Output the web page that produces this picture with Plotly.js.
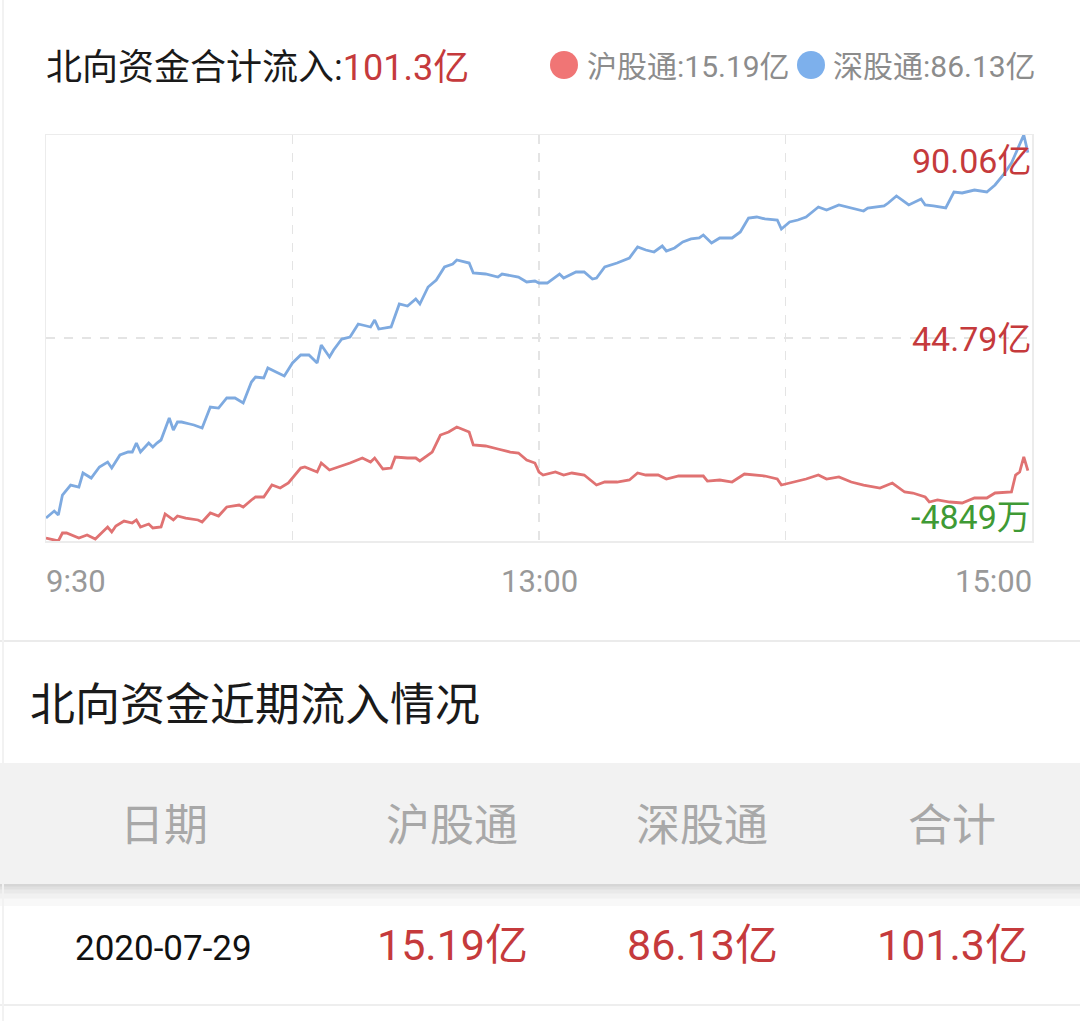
<!DOCTYPE html>
<html>
<head>
<meta charset="utf-8">
<script src="https://cdn.plot.ly/plotly-3.0.1.min.js"></script>
<style>
html,body{margin:0;padding:0;background:#fff;}
#chart{width:1080px;height:1021px;}
</style>
</head>
<body>
<div id="chart"></div>
<script>
// ---- data (values in 亿, time in minutes since 9:30 of trading time) ----
const blueT = [0,2,3,4,6,8,9,11,13,15,16,18,20,21,22,23,25,26,27,28,30,31,32,33,35,36,38,40,42,44,46,48,50,51,53,54,56,58,60,62,64,66,67,69,70,72,74,76,79,80,81,84,86,88,90,91,93,95,97,99,100,103,104,107,110,111,115,117,119,120,122,125,126,129,131,133,134,136,139,142,144,146,148,150,151,153,155,157,159,160,162,164,167,169,171,173,175,178,179,181,183,185,188,190,193,196,199,200,204,205,207,209,210,213,214,216,219,221,223,226,229,231,233,235,237,238,239];
const blueV = [4.64,6.20,5.31,9.77,12.00,11.55,14.68,13.56,16.02,17.13,
15.79,18.69,19.36,19.36,21.37,19.36,21.37,20.48,21.37,22.04,
26.95,24.27,26.05,26.05,25.61,25.39,24.72,29.40,29.17,31.41,
31.41,30.29,34.97,36.09,35.87,38.10,37.21,36.31,39.21,41.00,
41.00,39.21,43.23,40.55,42.11,44.56,45.01,47.91,47.24,48.80,
46.79,47.24,52.37,51.92,53.49,52.37,56.16,57.72,60.62,61.29,
62.18,61.51,59.28,59.06,58.39,59.06,58.39,57.28,57.50,57.05,
57.05,59.06,58.17,59.51,59.51,57.94,58.17,60.62,61.51,62.63,
65.08,64.41,63.97,65.30,64.19,64.86,66.20,66.87,67.09,67.76,
65.97,67.09,67.09,68.43,71.55,71.77,71.33,71.10,69.10,70.66,
71.10,71.77,74.00,73.33,74.45,73.78,73.11,73.78,74.23,74.89,
76.46,75.12,74.45,75.79,74.45,74.23,73.78,77.35,77.13,77.79,
77.35,78.91,81.14,83.82,87.83,90.06,86.13];

const redT = [0,3,4,5,8,10,12,15,16,17,19,21,22,23,25,26,28,29,31,32,34,37,38,40,42,44,47,48,50,51,53,55,57,59,62,63,66,67,69,72,74,77,79,80,82,84,85,88,90,91,94,96,98,100,103,104,107,110,113,115,117,119,120,121,124,126,128,131,134,136,139,142,144,146,149,151,154,157,160,161,164,167,170,175,178,179,182,185,188,190,193,196,199,203,206,209,211,214,215,217,220,223,226,229,231,235,236,237,238,239];
const redV = [0.18,-0.48,1.30,1.30,0.18,0.85,-0.04,2.64,1.52,2.86,
3.97,3.53,4.20,2.64,3.30,2.42,2.64,5.54,4.20,5.09,
4.64,4.20,3.75,5.76,5.09,7.10,7.54,7.10,8.66,9.33,
9.33,12.00,11.33,12.45,15.79,16.02,14.90,16.91,15.35,16.24,
16.91,18.02,17.13,18.02,15.57,15.79,18.25,18.02,18.02,17.36,
19.36,23.15,23.82,24.94,23.82,20.92,20.70,20.03,19.36,19.14,
17.58,16.91,14.90,14.23,14.90,14.23,14.68,14.23,12.00,12.67,
12.67,13.12,14.68,14.23,14.23,13.34,14.01,14.01,14.01,12.89,
13.12,12.67,14.46,14.01,13.34,12.00,12.67,13.34,14.23,13.34,
13.79,12.67,12.00,11.33,12.45,10.44,10.22,9.33,8.21,8.66,
8.21,7.99,9.10,9.10,10.22,10.44,14.23,14.90,18.25,15.19];

const yMax = 90.06, yMid = 44.79, yMin = -0.4849;
const yLabels = ['90.06亿','44.79亿','-4849万'];
const timeTickVals = [0,120,240];
const timeTickText = ['9:30','13:00','15:00'];
const gridTimes = [60,120,180];

const titleLabel = '北向资金合计流入:';
const totalLabel = '101.3亿';
const seriesNames = ['沪股通','深股通'];
const seriesFinal = ['15.19亿','86.13亿'];
const sectionTitle = '北向资金近期流入情况';
const tableHeaders = ['日期','沪股通','深股通','合计'];
const tableRow = ['2020-07-29','15.19亿','86.13亿','101.3亿'];

// ---- layout helpers (pixel -> paper) ----
const W = 1080, H = 1021;
const px = x => x / W;
const py = y => 1 - y / H;
const FONT = 'Roboto, "Noto Sans CJK SC", sans-serif';
const RED_TXT = '#c53a3c', GREEN_TXT = '#3f9a35', GRAY_TXT = '#999999';
const RED_LINE = '#e07272', BLUE_LINE = '#7eaae0';
const RED_DOT = '#f07575', BLUE_DOT = '#7db0ec';

const traces = [
  {x: redT, y: redV, type: 'scatter', mode: 'lines', line: {color: RED_LINE, width: 2.8}, hoverinfo: 'skip', name: seriesNames[0]},
  {x: blueT, y: blueV, type: 'scatter', mode: 'lines', line: {color: BLUE_LINE, width: 2.8}, hoverinfo: 'skip', name: seriesNames[1]}
];

const annotations = [];
// header title
annotations.push({xref:'paper', yref:'paper', x: px(44), y: py(68), xanchor:'left', yanchor:'middle', showarrow:false,
  text: titleLabel + '<span style="color:' + RED_TXT + '">' + totalLabel + '</span>',
  font:{family:FONT, size:36, color:'#1a1a1a'}});
// legend texts
annotations.push({xref:'paper', yref:'paper', x: px(585), y: py(66), xanchor:'left', yanchor:'middle', showarrow:false,
  text: seriesNames[0] + ':' + seriesFinal[0], font:{family:FONT, size:30, color:'#8c8c8c'}});
annotations.push({xref:'paper', yref:'paper', x: px(831), y: py(66), xanchor:'left', yanchor:'middle', showarrow:false,
  text: seriesNames[1] + ':' + seriesFinal[1], font:{family:FONT, size:30, color:'#8c8c8c'}});
// y value labels
annotations.push({xref:'paper', yref:'y', x: px(1033), y: yMax, yshift:-26, xanchor:'right', yanchor:'middle', showarrow:false,
  text: yLabels[0], font:{family:FONT, size:34, color:RED_TXT}});
annotations.push({xref:'paper', yref:'y', x: px(1033), y: yMid, yshift:-1, xanchor:'right', yanchor:'middle', showarrow:false,
  text: yLabels[1], font:{family:FONT, size:34, color:RED_TXT}});
annotations.push({xref:'paper', yref:'y', x: px(1033), y: yMin, yshift:24, xanchor:'right', yanchor:'middle', showarrow:false,
  text: yLabels[2], font:{family:FONT, size:34, color:GREEN_TXT}});
// time labels
const anchors = ['left','center','right'];
const tshift = [-2, 0, 2];
timeTickVals.forEach((t, i) => {
  annotations.push({xref:'x', yref:'paper', x: t, xshift: tshift[i], y: py(581), xanchor: anchors[i], yanchor:'middle', showarrow:false,
    text: timeTickText[i], font:{family:FONT, size:31, color:GRAY_TXT}});
});
// section title
annotations.push({xref:'paper', yref:'paper', x: px(28), y: py(705), xanchor:'left', yanchor:'middle', showarrow:false,
  text: sectionTitle, font:{family:FONT, size:45, color:'#1a1a1a'}});
// table
const colX = [164, 452, 702, 952];
tableHeaders.forEach((h, i) => {
  annotations.push({xref:'paper', yref:'paper', x: px(colX[i]), y: py(826), xanchor:'center', yanchor:'middle', showarrow:false,
    text: h, font:{family:FONT, size:44, color:'#a8a8a8'}});
});
tableRow.forEach((v, i) => {
  annotations.push({xref:'paper', yref:'paper', x: px(colX[i] - (i === 0 ? 1 : 0)), y: py(i === 0 ? 948 : 945), xanchor:'center', yanchor:'middle', showarrow:false,
    text: v, font:{family:FONT, size: i === 0 ? 35 : 43, color: i === 0 ? '#111111' : RED_TXT}});
});

const shapes = [
  // legend dots
  {type:'circle', xref:'paper', yref:'paper', x0:px(550), x1:px(578), y0:py(79), y1:py(51), fillcolor:RED_DOT, line:{width:0}},
  {type:'circle', xref:'paper', yref:'paper', x0:px(797), x1:px(825), y0:py(79), y1:py(51), fillcolor:BLUE_DOT, line:{width:0}},
  // separators
  {type:'rect', xref:'paper', yref:'paper', x0:0, x1:1, y0:py(642), y1:py(640), fillcolor:'#ebebeb', line:{width:0}, layer:'below'},
  {type:'rect', xref:'paper', yref:'paper', x0:0, x1:1, y0:py(1006), y1:py(1004), fillcolor:'#eeeeee', line:{width:0}, layer:'below'},
  // table header band
  {type:'rect', xref:'paper', yref:'paper', x0:0, x1:1, y0:py(885), y1:py(763), fillcolor:'#f2f2f2', line:{width:0}, layer:'below'},
  // shadow below the band
  {type:'rect', xref:'paper', yref:'paper', x0:0, x1:1, y0:py(887), y1:py(884), fillcolor:'#d6d6d6', line:{width:0}, layer:'below'},
  {type:'rect', xref:'paper', yref:'paper', x0:0, x1:1, y0:py(890), y1:py(886.5), fillcolor:'#e0e0e0', line:{width:0}, layer:'below'},
  {type:'rect', xref:'paper', yref:'paper', x0:0, x1:1, y0:py(894), y1:py(889.5), fillcolor:'#e9e9e9', line:{width:0}, layer:'below'},
  {type:'rect', xref:'paper', yref:'paper', x0:0, x1:1, y0:py(899), y1:py(893.5), fillcolor:'#f1f1f1', line:{width:0}, layer:'below'},
  {type:'rect', xref:'paper', yref:'paper', x0:0, x1:1, y0:py(906), y1:py(898.5), fillcolor:'#f8f8f8', line:{width:0}, layer:'below'},
  // faint left edge
  {type:'line', xref:'paper', yref:'paper', x0:px(3), x1:px(3), y0:0, y1:1, line:{color:'#f2f2f2', width:2}, layer:'below'}
];

const layout = {
  width: W, height: H,
  margin: {l:0, r:0, t:0, b:0},
  paper_bgcolor: '#ffffff', plot_bgcolor: '#ffffff',
  showlegend: false,
  xaxis: {
    domain: [px(46), px(1032)], range: [0, 240],
    tickvals: gridTimes, showticklabels: false, ticks: '',
    showgrid: true, gridcolor: '#e4e4e4', griddash: 'dash', gridwidth: 1.5,
    showline: true, mirror: true, linecolor: '#ececec', linewidth: 1.5,
    zeroline: false, fixedrange: true
  },
  yaxis: {
    domain: [py(541), py(135)], range: [yMin, yMax],
    tickvals: [yMid], showticklabels: false, ticks: '',
    showgrid: true, gridcolor: '#e4e4e4', griddash: 'dash', gridwidth: 1.5,
    showline: true, mirror: true, linecolor: '#ececec', linewidth: 1.5,
    zeroline: false, fixedrange: true
  },
  annotations: annotations,
  shapes: shapes
};

Plotly.newPlot('chart', traces, layout, {staticPlot: true, displayModeBar: false});
</script>
</body>
</html>
